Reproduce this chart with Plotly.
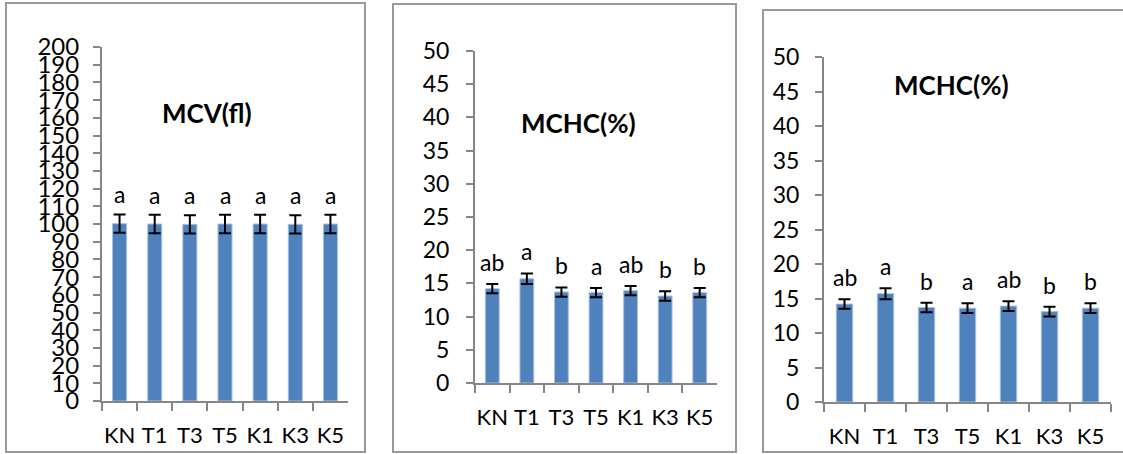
import plotly.graph_objects as go

categories = ["KN", "T1", "T3", "T5", "K1", "K3", "K5"]

mcv_values = [100.2, 100.0, 99.8, 100.0, 100.0, 99.8, 100.0]
mcv_errors = [5.2, 5.2, 5.2, 5.2, 5.2, 5.2, 5.2]
mcv_letters = ["a", "a", "a", "a", "a", "a", "a"]

mchc_values = [14.2, 15.7, 13.7, 13.6, 13.9, 13.1, 13.6]
mchc_errors = [0.7, 0.8, 0.7, 0.7, 0.7, 0.7, 0.7]
mchc_letters = ["ab", "a", "b", "a", "ab", "b", "b"]

W, H = 1123, 454
FONT = "Lato, Carlito, Calibri, sans-serif"
BAR = "#4F81BD"
AXIS = "#868686"

def px(x):
    return x / W

def py(y):
    return 1 - y / H

panels = [
    dict(x0=102, x1=348, yt=47, yb=401, rng=200, dtick=10, vals=mcv_values, errs=mcv_errors,
         letters=mcv_letters, title="MCV(fl)", tx=207, ty=113, shift=4, yfont=24, ystand=9),
    dict(x0=475, x1=717, yt=51, yb=383, rng=50, dtick=5, vals=mchc_values, errs=mchc_errors,
         letters=mchc_letters, title="MCHC(%)", tx=578, ty=123, shift=6, yfont=23, ystand=12),
    dict(x0=824, x1=1111, yt=57, yb=402, rng=50, dtick=5, vals=mchc_values, errs=mchc_errors,
         letters=mchc_letters, title="MCHC(%)", tx=951, ty=85, shift=6, yfont=23, ystand=11),
]

fig = go.Figure()
annotations = []
layout = {}
for i, p in enumerate(panels):
    n = "" if i == 0 else str(i + 1)
    xa, ya = "x" + n, "y" + n
    fig.add_trace(go.Bar(
        x=categories, y=p["vals"], xaxis=xa, yaxis=ya, width=0.4,
        marker=dict(color=BAR, line=dict(color="#A7C0DE", width=1)),
        error_y=dict(type="data", array=p["errs"], visible=True, color="black", thickness=2, width=6),
        showlegend=False, hoverinfo="skip",
    ))
    for c, v, e, t in zip(categories, p["vals"], p["errs"], p["letters"]):
        annotations.append(dict(x=c, y=v + e, xref=xa, yref=ya, text=t, showarrow=False,
                                yanchor="bottom", yshift=p["shift"],
                                font=dict(family=FONT, size=23, color="black")))
    annotations.append(dict(x=px(p["tx"]), y=py(p["ty"]), xref="paper", yref="paper",
                            text="<b>" + p["title"] + "</b>", showarrow=False,
                            xanchor="center", yanchor="middle",
                            font=dict(family=FONT, size=26, color="black")))
    layout["xaxis" + n] = dict(
        domain=[px(p["x0"]), px(p["x1"])], anchor=ya, type="category", tickangle=0,
        automargin=False,
        showline=True, linecolor=AXIS, linewidth=2, ticks="outside", tickson="boundaries",
        ticklen=8, tickcolor=AXIS, tickwidth=2, ticklabelstandoff=14,
        tickfont=dict(family=FONT, size=22, color="black"), showgrid=False, zeroline=False,
        fixedrange=True,
    )
    layout["yaxis" + n] = dict(
        domain=[py(p["yb"]), py(p["yt"])], anchor=xa, range=[0, p["rng"]], dtick=p["dtick"],
        automargin=False,
        showline=True, linecolor=AXIS, linewidth=2, ticks="outside", ticklen=7,
        tickcolor=AXIS, tickwidth=2, ticklabelstandoff=p["ystand"],
        tickfont=dict(family=FONT, size=p["yfont"], color="black"),
        showgrid=False, zeroline=False, fixedrange=True,
    )

borders = [(6, 3, 365, 452), (393, 4, 736, 452), (763, 10, 1130, 452)]
shapes = []
for x0, y0, x1, y1 in borders:
    shapes.append(dict(type="rect", xref="paper", yref="paper",
                       x0=px(x0), x1=px(x1), y0=py(y1), y1=py(y0),
                       line=dict(color="#9A9A9A", width=2), fillcolor="rgba(0,0,0,0)"))

fig.update_layout(
    width=W, height=H, margin=dict(l=0, r=0, t=0, b=0, autoexpand=False),
    paper_bgcolor="white", plot_bgcolor="white",
    annotations=annotations, shapes=shapes, bargap=0.6,
    font=dict(family=FONT, color="black"),
    **layout,
)

fig.write_html("out.html", config={"displayModeBar": False},
               post_script="document.body.style.margin='0';")
